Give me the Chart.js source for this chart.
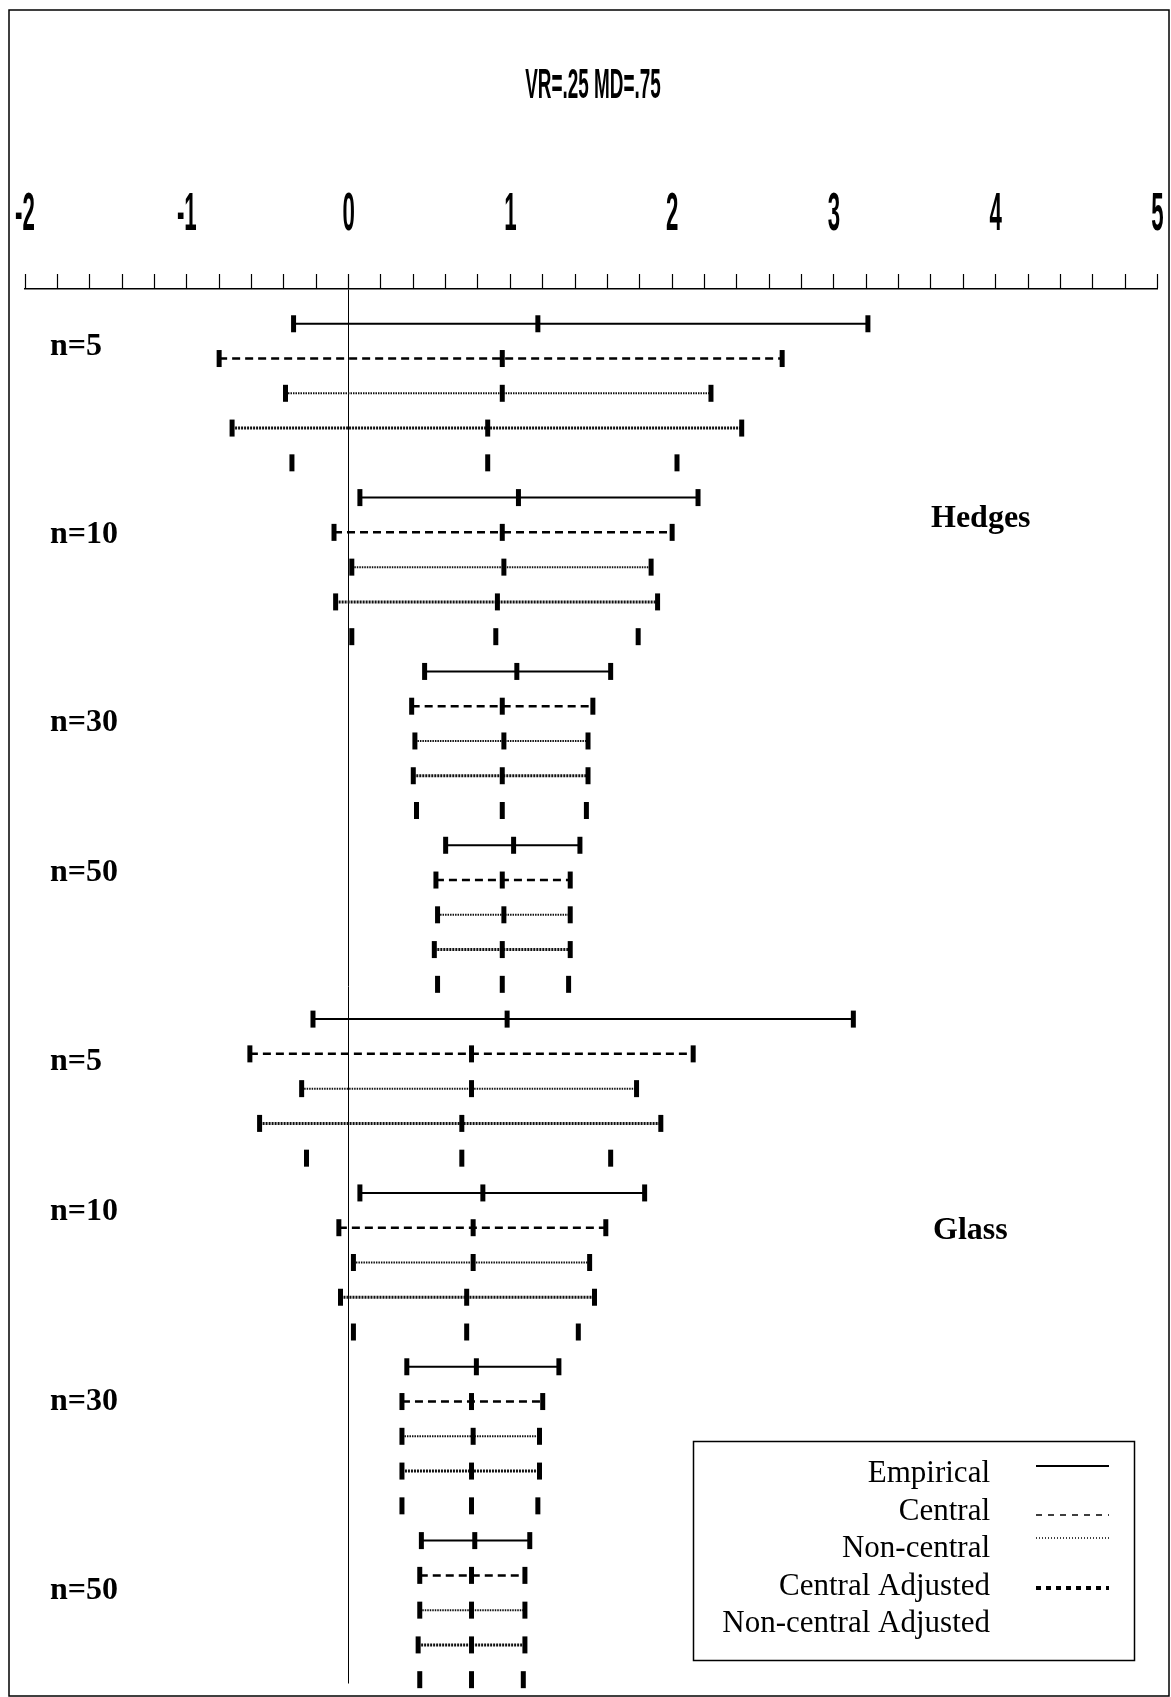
<!DOCTYPE html>
<html>
<head>
<meta charset="utf-8">
<script src="https://cdn.jsdelivr.net/npm/chart.js@4.4.1/dist/chart.umd.min.js"></script>
<style>
  html, body { margin: 0; padding: 0; background: #fff; }
  #wrap { position: relative; width: 1171px; height: 1697px; }
  canvas { display: block; }
</style>
</head>
<body>
<div id="wrap"><canvas id="chart" width="1171" height="1697"></canvas></div>
<script>
// ---- data ----
const chartTitle = 'VR=.25 MD=.75';
const panels = ['Hedges', 'Glass'];
const groupLabels = ['n=5', 'n=10', 'n=30', 'n=50', 'n=5', 'n=10', 'n=30', 'n=50'];
const methods = ['Empirical', 'Central', 'Non-central', 'Central Adjusted', 'Non-central Adjusted'];
const xTickLabels = [-2, -1, 0, 1, 2, 3, 4, 5];

// lower limit / estimate / upper limit, one value per group
// (Hedges n=5, 10, 30, 50, then Glass n=5, 10, 30, 50)
const empiricalLow  = [-0.34, 0.07, 0.47, 0.60, -0.22, 0.07, 0.36, 0.45];
const empiricalEst  = [ 1.17, 1.05, 1.04, 1.02,  0.98, 0.83, 0.79, 0.78];
const empiricalHigh = [ 3.21, 2.16, 1.62, 1.43,  3.12, 1.83, 1.30, 1.12];

const centralLow  = [-0.80, -0.09, 0.39, 0.54, -0.61, -0.06, 0.33, 0.44];
const centralEst  = [ 0.95,  0.95, 0.95, 0.95,  0.76,  0.77, 0.76, 0.76];
const centralHigh = [ 2.68,  2.00, 1.51, 1.37,  2.13,  1.59, 1.20, 1.09];

const noncentralLow  = [-0.39, 0.02, 0.41, 0.55, -0.29, 0.03, 0.33, 0.44];
const noncentralEst  = [ 0.95, 0.96, 0.96, 0.96,  0.76, 0.77, 0.77, 0.76];
const noncentralHigh = [ 2.24, 1.87, 1.48, 1.37,  1.78, 1.49, 1.18, 1.09];

const centralAdjLow  = [-0.72, -0.08, 0.40, 0.53, -0.55, -0.05, 0.33, 0.43];
const centralAdjEst  = [ 0.86,  0.92, 0.95, 0.95,  0.70,  0.73, 0.76, 0.76];
const centralAdjHigh = [ 2.43,  1.91, 1.48, 1.37,  1.93,  1.52, 1.18, 1.09];

const noncentralAdjLow  = [-0.35, 0.02, 0.42, 0.55, -0.26, 0.03, 0.33, 0.44];
const noncentralAdjEst  = [ 0.86, 0.91, 0.95, 0.95,  0.70, 0.73, 0.76, 0.76];
const noncentralAdjHigh = [ 2.03, 1.79, 1.47, 1.36,  1.62, 1.42, 1.17, 1.08];

// ---- layout & styles ----
const ROWS_PER_GROUP = methods.length;
const groupLabelRows = [0.67, 6.06, 11.48, 15.79, 21.23, 25.55, 31.0, 36.45];
const panelLabelRows = [5.61, 26.1];
const panelLabelX = [931, 933];

const lineStyles = [
  { color: '#000',    width: 2,   dash: [] },
  { color: '#000',    width: 2.5, dash: [8, 5] },
  { color: '#111',    width: 2,   dash: [1.5, 1] },
  { color: '#111',    width: 3,   dash: [2, 1] },
  null
];
const legendSamples = [
  { width: 2,   dash: [],     y: 1466 },
  { width: 1.5, dash: [6, 6], y: 1515 },
  { width: 1.5, dash: [1, 2], y: 1538 },
  { width: 4,   dash: [5, 5], y: 1588 },
  null
];
const legendBaselines = [1482, 1519.5, 1557, 1594.5, 1632];

function buildPoints(low, est, high, m) {
  const pts = [];
  low.forEach((l, g) => {
    const row = g * ROWS_PER_GROUP + m;
    pts.push({ x: l, y: row }, { x: est[g], y: row }, { x: high[g], y: row }, { x: null, y: null });
  });
  return pts;
}

const seriesTriples = [
  [empiricalLow, empiricalEst, empiricalHigh],
  [centralLow, centralEst, centralHigh],
  [noncentralLow, noncentralEst, noncentralHigh],
  [centralAdjLow, centralAdjEst, centralAdjHigh],
  [noncentralAdjLow, noncentralAdjEst, noncentralAdjHigh]
];

const datasets = methods.map((name, m) => {
  const st = lineStyles[m];
  return {
    label: name,
    data: buildPoints(seriesTriples[m][0], seriesTriples[m][1], seriesTriples[m][2], m),
    showLine: !!st,
    spanGaps: false,
    clip: false,
    borderColor: st ? st.color : '#000',
    borderWidth: st ? st.width : 0,
    borderDash: st ? st.dash : [],
    fill: false,
    tension: 0,
    pointStyle: 'line',
    pointRotation: 90,
    pointRadius: 8.5,
    pointHoverRadius: 8.5,
    pointBorderWidth: 5,
    pointHoverBorderWidth: 5,
    pointBorderColor: '#000',
    pointBackgroundColor: '#000'
  };
});

function condensedText(ctx, text, cx, cy, size, sx, weight) {
  ctx.save();
  ctx.translate(cx, cy);
  ctx.scale(sx, 1);
  ctx.font = `${weight} ${size}px "Liberation Sans", Arial, sans-serif`;
  ctx.textAlign = 'center';
  ctx.textBaseline = 'middle';
  ctx.fillStyle = '#000';
  ctx.fillText(text, 0, 0);
  ctx.restore();
}

const decorations = {
  id: 'decorations',
  afterDraw(chart) {
    const ctx = chart.ctx;
    const xs = chart.scales.x;
    const ys = chart.scales.y;
    ctx.save();

    // outer frame
    ctx.strokeStyle = '#000';
    ctx.lineWidth = 1.5;
    ctx.setLineDash([]);
    ctx.strokeRect(9, 10, 1160, 1686);

    // title
    condensedText(ctx, chartTitle, 593, 86, 42, 0.45, 'bold');

    // axis numbers
    xTickLabels.forEach(v => {
      condensedText(ctx, String(v), xs.getPixelForValue(v), 215, 53, 0.42, 'bold');
    });

    // group labels
    ctx.fillStyle = '#000';
    ctx.font = 'bold 32px "Liberation Serif", "Times New Roman", serif';
    ctx.textAlign = 'left';
    ctx.textBaseline = 'middle';
    groupLabels.forEach((t, g) => {
      ctx.fillText(t, 50, ys.getPixelForValue(groupLabelRows[g]));
    });
    panels.forEach((p, i) => {
      ctx.fillText(p, panelLabelX[i], ys.getPixelForValue(panelLabelRows[i]));
    });

    // legend
    ctx.lineWidth = 1.5;
    ctx.strokeRect(693.5, 1441.5, 441, 219);
    ctx.font = '31px "Liberation Serif", "Times New Roman", serif';
    ctx.textAlign = 'right';
    ctx.textBaseline = 'alphabetic';
    methods.forEach((name, m) => {
      ctx.fillText(name, 990, legendBaselines[m]);
      const s = legendSamples[m];
      if (s) {
        ctx.beginPath();
        ctx.setLineDash(s.dash);
        ctx.lineWidth = s.width;
        ctx.moveTo(1036, s.y);
        ctx.lineTo(1109, s.y);
        ctx.stroke();
      }
    });
    ctx.restore();
  }
};

new Chart(document.getElementById('chart'), {
  type: 'line',
  data: { datasets },
  options: {
    responsive: false,
    animation: false,
    devicePixelRatio: 1,
    events: [],
    layout: { padding: { left: 25, right: 8.5, top: 274, bottom: 5 } },
    plugins: { legend: { display: false }, tooltip: { enabled: false } },
    scales: {
      x: {
        type: 'linear',
        position: 'top',
        min: -2,
        max: 5,
        ticks: { display: false, stepSize: 0.2 },
        grid: {
          drawOnChartArea: true,
          drawTicks: true,
          tickLength: 15,
          tickWidth: 1.2,
          tickColor: '#000',
          lineWidth: 1,
          color: c => (c.tick && Math.abs(c.tick.value) < 1e-9) ? '#000' : 'rgba(0,0,0,0)'
        },
        border: { display: true, color: '#000', width: 1.5 }
      },
      y: {
        type: 'linear',
        reverse: true,
        min: -1,
        max: 39.11,
        display: false
      }
    }
  },
  plugins: [decorations]
});
</script>
</body>
</html>
